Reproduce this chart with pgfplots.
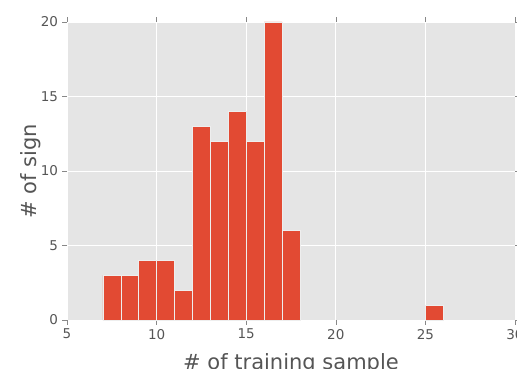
\documentclass[border=0pt]{standalone}
\usepackage{pgfplots}
\pgfplotsset{compat=1.18}
\usepackage{fontspec}
\setmainfont{DejaVu Sans}
\definecolor{bgc}{HTML}{E5E5E5}
\definecolor{barc}{HTML}{E24A33}
\definecolor{txt}{HTML}{555555}
\definecolor{edgec}{HTML}{EEEEEE}
\begin{document}
\begin{tikzpicture}
\begin{axis}[
  name=ax,
  scale only axis,
  width=448bp, height=298bp,
  xmin=5, xmax=30, ymin=0, ymax=20,
  xtick={5,10,15,20,25,30},
  ytick={0,5,10,15,20},
  axis background/.style={fill=bgc},
  axis line style={draw=none},
  grid=major,
  major grid style={white, line width=0.8bp},
  tick align=outside,
  major tick length=4.5bp,
  tick style={color=txt!70, line width=0.5bp},
  /pgf/number format/assume math mode=true,
  ticklabel style={font=\fontsize{13.5bp}{16bp}\selectfont, text=txt},
  xticklabel style={yshift=-1bp},
  yticklabel style={xshift=-1bp},
  xlabel={\# of training sample},
  ylabel={\# of sign},
  every axis x label/.style={at={(axis description cs:0.5,-0.165)}, anchor=base,
    font=\fontsize{21bp}{25bp}\selectfont, text=txt},
  every axis y label/.style={at={(axis description cs:-0.067,0.5)}, rotate=90, anchor=base,
    font=\fontsize{21bp}{25bp}\selectfont, text=txt},
]
\addplot[ybar interval, fill=barc, draw=edgec, line width=0.5bp] coordinates {
  (7,3) (8,3) (9,4) (10,4) (11,2) (12,13) (13,12) (14,14) (15,12) (16,20) (17,6) (18,6)
};
\addplot[ybar interval, fill=barc, draw=edgec, line width=0.5bp] coordinates {
  (25,1) (26,1)
};
\end{axis}
\pgfresetboundingbox
\path[use as bounding box] ([shift={(-67bp,-49bp)}]ax.south west) rectangle ([shift={(2bp,22bp)}]ax.north east);
\end{tikzpicture}
\end{document}
